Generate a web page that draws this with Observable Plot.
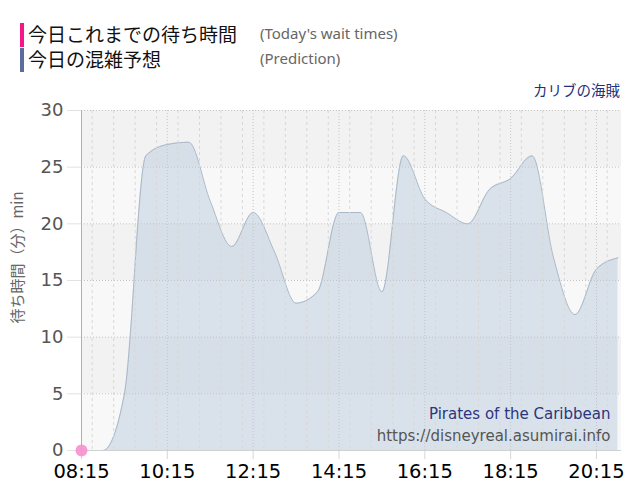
<!DOCTYPE html>
<html>
<head>
<meta charset="utf-8">
<script src="https://cdn.jsdelivr.net/npm/d3@7"></script>
<script src="https://cdn.jsdelivr.net/npm/@observablehq/plot@0.6"></script>
<style>
  body { margin: 0; background: #fff; }
  #header { position: relative; width: 640px; height: 100px; }
  .bar { position: absolute; left: 20px; width: 4px; height: 24px; }
  .jp { position: absolute; left: 28px; font-family: "Noto Sans CJK JP"; font-size: 19px; line-height: 24px; color: #111; white-space: nowrap; }
  .en { position: absolute; left: 260px; font-family: "Noto Sans"; font-size: 15px; line-height: 24px; color: #666; white-space: nowrap; }
  #attr { position: absolute; right: 20px; top: 80px; font-family: "Noto Sans CJK JP"; font-size: 14.5px; line-height: 20px; color: #262f7c; }
</style>
</head>
<body>
<div id="header"></div>
<div id="chart"></div>
<script>
// ---- data ----
const legendLabels = ["今日これまでの待ち時間", "今日の混雑予想"];
const legendSubLabels = ["(Today's wait times)", "(Prediction)"];
const legendColors = ["#f5178a", "#5b6b9b"];
const attractionName = "カリブの海賊";
const attractionEn = "Pirates of the Caribbean";
const siteUrl = "https://disneyreal.asumirai.info";
const yTitle = "待ち時間（分）min";

const predTimes = ["08:15","08:45","09:15","09:45","10:15","10:45","11:15","11:45","12:15","12:45","13:15","13:45","14:15","14:45","15:15","15:45","16:15","16:45","17:15","17:45","18:15","18:45","19:15","19:45","20:15","20:45"];
const predValues = [0, 0, 5, 26, 27, 27.2, 22, 18, 21, 17.5, 13, 14, 21, 21, 14, 26, 22.2, 21, 20, 23, 24, 26, 17, 12, 16, 17];

const actualTimes = ["08:15"];
const actualValues = [0];

const xTickLabels = ["08:15","10:15","12:15","14:15","16:15","18:15","20:15"];
const yTicks = [0, 5, 10, 15, 20, 25, 30];
const xStart = "08:15";
const xEnd = "20:50";

// ---- helpers ----
const toDate = s => { const [h, m] = s.split(":").map(Number); return new Date(Date.UTC(2024, 0, 1, h, m)); };
const pred = predTimes.map((t, i) => ({t: toDate(t), v: predValues[i]}));
const actual = actualTimes.map((t, i) => ({t: toDate(t), v: actualValues[i]}));
const xTicks = xTickLabels.map(toDate);
const x0 = toDate(xStart), x1 = toDate(xEnd);
const minorTicks = d3.utcMinute.every(30).range(x0, x1).filter(d => !xTicks.some(t => +t === +d));
const fmt = d3.utcFormat("%H:%M");
const bands = yTicks.slice(0, -1).map((v, i) => ({lo: v, hi: yTicks[i + 1], i}));

// ---- header ----
const header = document.getElementById("header");
legendLabels.forEach((lab, i) => {
  const top = 23 + i * 25;
  const b = document.createElement("div"); b.className = "bar"; b.style.top = top + "px"; b.style.background = legendColors[i]; header.appendChild(b);
  const j = document.createElement("div"); j.className = "jp"; j.style.top = (top - 1) + "px"; j.textContent = lab; header.appendChild(j);
  const e = document.createElement("div"); e.className = "en"; e.style.top = (top - 2) + "px"; e.textContent = legendSubLabels[i]; header.appendChild(e);
});
const a = document.createElement("div"); a.id = "attr"; a.textContent = attractionName; header.appendChild(a);

// ---- chart ----
const curve = "monotone-x";
const chart = Plot.plot({
  width: 640, height: 400,
  marginLeft: 81, marginRight: 19, marginTop: 10, marginBottom: 50,
  style: {fontFamily: "DejaVu Sans", background: "#fff", overflow: "visible"},
  x: {type: "utc", domain: [x0, x1]},
  y: {domain: [0, 30]},
  marks: [
    Plot.rect(bands.filter(d => d.i % 2 === 0), {x1: () => x0, x2: () => x1, y1: "lo", y2: "hi", fill: "#f8f8f8"}),
    Plot.rect(bands.filter(d => d.i % 2 === 1), {x1: () => x0, x2: () => x1, y1: "lo", y2: "hi", fill: "#f2f2f2"}),
    Plot.areaY(pred, {x: "t", y: "v", curve, fill: "#b9cbdc", fillOpacity: 0.5}),
    Plot.lineY(pred, {x: "t", y: "v", curve, stroke: "#a9b8c7", strokeWidth: 1}),
    Plot.ruleX(minorTicks, {stroke: "#d8d8d8", strokeDasharray: "3,3", strokeWidth: 1}),
    Plot.ruleX(xTicks.slice(1), {stroke: "#c4c4c4", strokeDasharray: "1,2", strokeWidth: 1}),
    Plot.ruleY(yTicks.slice(1), {stroke: "#c4c4c4", strokeDasharray: "1,2", strokeWidth: 1}),
    Plot.ruleY([0], {stroke: "#d0d0d0"}),
    Plot.ruleX([x0], {stroke: "#b0b0b0"}),
    Plot.axisY({ticks: yTicks, tickSize: 14, tickFormat: () => "", stroke: "#e2e2e2", label: null}),
    Plot.axisY({ticks: yTicks, tickSize: 0, tickPadding: 18, fontSize: 18, fill: "#555", label: null}),
    Plot.axisX({ticks: xTicks, tickSize: 9, tickFormat: () => "", stroke: "#d6d6d6", label: null}),
    Plot.axisX({ticks: xTicks, tickSize: 0, tickPadding: 14, fontSize: 19.5, fill: "#000", tickFormat: fmt, label: null}),
    Plot.text([yTitle], {frameAnchor: "left", rotate: -90, dx: -63, dy: -23, fontSize: 15, fill: "#666", fontFamily: "Noto Sans CJK JP", textAnchor: "middle"}),
    Plot.text([attractionEn], {frameAnchor: "bottom-right", dx: -11, dy: -36, lineAnchor: "middle", textAnchor: "end", fontSize: 15, fill: "#2b3580"}),
    Plot.text([siteUrl], {frameAnchor: "bottom-right", dx: -11, dy: -14, lineAnchor: "middle", textAnchor: "end", fontSize: 15, fill: "#555"}),
    Plot.dot(actual, {x: "t", y: "v", r: 6, fill: "#f68fd0", fillOpacity: 0.9})
  ]
});
document.getElementById("chart").appendChild(chart);
</script>
</body>
</html>
